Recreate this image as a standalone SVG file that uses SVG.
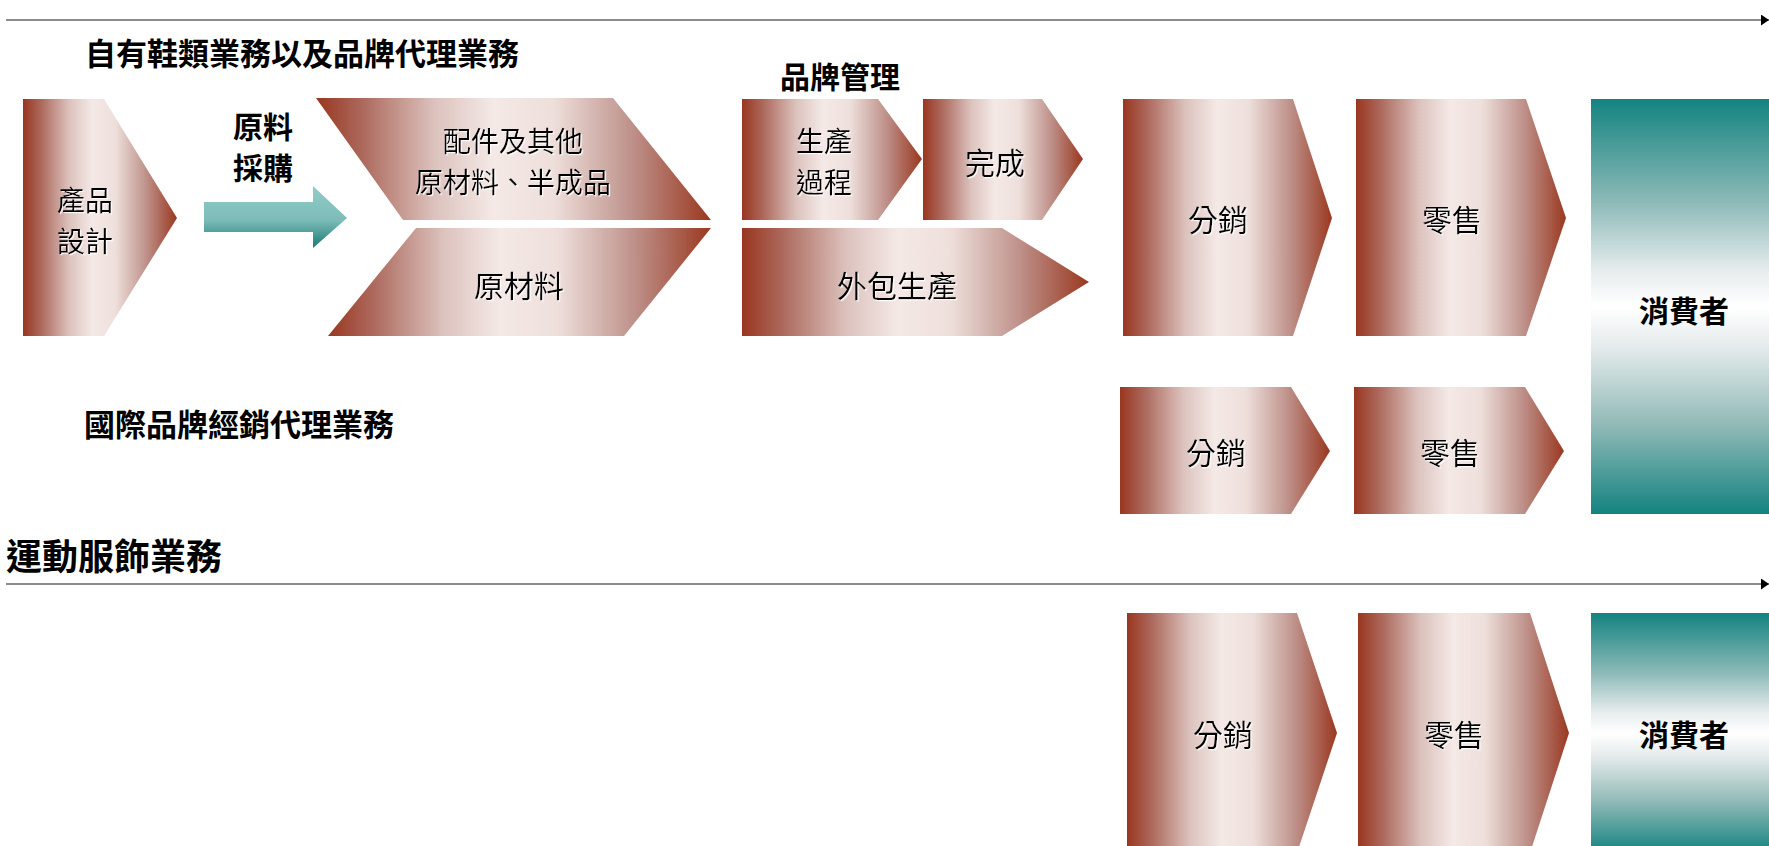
<svg xmlns="http://www.w3.org/2000/svg" width="1769" height="846" viewBox="0 0 1769 846">
<defs>
<linearGradient id="red" x1="0" y1="0" x2="1" y2="0">
<stop offset="0" stop-color="#993620"/>
<stop offset="0.12" stop-color="#AD6A5E"/>
<stop offset="0.3" stop-color="#DCC2BD"/>
<stop offset="0.45" stop-color="#F4E9E6"/>
<stop offset="0.6" stop-color="#EEDFDB"/>
<stop offset="0.8" stop-color="#BE918A"/>
<stop offset="1" stop-color="#9A3820"/>
</linearGradient>
<linearGradient id="teal" x1="0" y1="0" x2="0" y2="1">
<stop offset="0" stop-color="#138380"/>
<stop offset="0.25" stop-color="#8DBAB8"/>
<stop offset="0.42" stop-color="#E9EEEF"/>
<stop offset="0.5" stop-color="#FFFFFF"/>
<stop offset="0.6" stop-color="#E4EAEB"/>
<stop offset="0.78" stop-color="#93BBB8"/>
<stop offset="1" stop-color="#138380"/>
</linearGradient>
<linearGradient id="arrowg" x1="0" y1="0" x2="0" y2="1">
<stop offset="0" stop-color="#92CCC8"/>
<stop offset="0.55" stop-color="#7CBCB8"/>
<stop offset="1" stop-color="#1C7A75"/>
</linearGradient>
<marker id="ah" viewBox="0 0 10 10" refX="10" refY="5" markerWidth="8" markerHeight="11" markerUnits="userSpaceOnUse" orient="auto" preserveAspectRatio="none">
<path d="M0,0 L10,5 L0,10 z" fill="#000"/>
</marker>
<filter id="emb" x="-10%" y="-10%" width="130%" height="130%">
<feDropShadow dx="1.2" dy="1.2" stdDeviation="0.3" flood-color="#FFFFFF" flood-opacity="0.9"/>
</filter>
</defs>
<style>
.chev{fill:url(#red)}
.lbl{font-family:"Noto Sans CJK TC","Noto Sans CJK SC",sans-serif;font-size:30px;fill:#000;text-anchor:middle;dominant-baseline:central}
.ml{font-size:28px}
.hd{font-family:"Noto Sans CJK TC","Noto Sans CJK SC",sans-serif;font-weight:bold;fill:#000;font-size:31px;dominant-baseline:central}
.bl{font-family:"Noto Sans CJK TC","Noto Sans CJK SC",sans-serif;font-weight:bold;fill:#000;font-size:30px;text-anchor:middle;dominant-baseline:central}
.axis{stroke:#666;stroke-width:1.5;fill:none}
</style>

<g id="connectors">
<line class="axis" x1="6" y1="20" x2="1769" y2="20" marker-end="url(#ah)"/>
<line class="axis" x1="6" y1="584" x2="1769" y2="584" marker-end="url(#ah)"/>
</g>

<g id="heading-footwear"><text class="hd" x="85" y="51">自有鞋類業務以及品牌代理業務</text></g>
<g id="heading-intl"><text class="hd" x="84" y="422">國際品牌經銷代理業務</text></g>
<g id="heading-sports"><text class="hd" x="6" y="554" style="font-size:36px">運動服飾業務</text></g>

<g id="product-design">
<polygon class="chev" points="23,99 104,99 177,218 104,336 23,336"/>
<text class="lbl ml" x="85" y="199" filter="url(#emb)">產品</text>
<text class="lbl ml" x="85" y="240" filter="url(#emb)">設計</text>
</g>

<g id="procurement">
<text class="bl ml" x="263" y="125">原料</text>
<text class="bl ml" x="263" y="166">採購</text>
<polygon fill="url(#arrowg)" points="204,202 313,202 313,186 347,218 313,248 313,232 204,232"/>
</g>

<g id="accessories">
<polygon class="chev" points="316,98 613,98 711,220 403,220"/>
<text class="lbl ml" x="513" y="140" filter="url(#emb)">配件及其他</text>
<text class="lbl ml" x="513" y="181" filter="url(#emb)">原材料、半成品</text>
</g>

<g id="raw-materials">
<polygon class="chev" points="416,228 711,228 624,336 328,336"/>
<text class="lbl" x="519" y="284" filter="url(#emb)">原材料</text>
</g>

<g id="brand-mgmt"><text class="bl" x="840" y="75">品牌管理</text></g>

<g id="production">
<polygon class="chev" points="742,99 878,99 922,159 878,220 742,220"/>
<text class="lbl ml" x="824" y="140" filter="url(#emb)">生產</text>
<text class="lbl ml" x="824" y="181" filter="url(#emb)">過程</text>
</g>

<g id="finish">
<polygon class="chev" points="923,99 1042,99 1083,159 1042,220 923,220"/>
<text class="lbl" x="995" y="161" filter="url(#emb)">完成</text>
</g>

<g id="outsourcing">
<polygon class="chev" points="742,228 1002,228 1089,282 1002,336 742,336"/>
<text class="lbl" x="897" y="284" filter="url(#emb)">外包生產</text>
</g>

<g id="dist-1">
<polygon class="chev" points="1123,99 1293,99 1332,218 1293,336 1123,336"/>
<text class="lbl" x="1218" y="218" filter="url(#emb)">分銷</text>
</g>
<g id="retail-1">
<polygon class="chev" points="1356,99 1526,99 1566,218 1526,336 1356,336"/>
<text class="lbl" x="1452" y="218" filter="url(#emb)">零售</text>
</g>
<g id="consumer-1">
<rect x="1591" y="99" width="178" height="415" fill="url(#teal)"/>
<text class="bl" x="1684" y="309">消費者</text>
</g>

<g id="dist-2">
<polygon class="chev" points="1120,387 1291,387 1330,451 1291,514 1120,514"/>
<text class="lbl" x="1216" y="451" filter="url(#emb)">分銷</text>
</g>
<g id="retail-2">
<polygon class="chev" points="1354,387 1525,387 1564,451 1525,514 1354,514"/>
<text class="lbl" x="1450" y="451" filter="url(#emb)">零售</text>
</g>

<g id="dist-3">
<polygon class="chev" points="1127,613 1297,613 1337,733 1297,853 1127,853"/>
<text class="lbl" x="1223" y="733" filter="url(#emb)">分銷</text>
</g>
<g id="retail-3">
<polygon class="chev" points="1358,613 1530,613 1569,733 1530,853 1358,853"/>
<text class="lbl" x="1454" y="733" filter="url(#emb)">零售</text>
</g>
<g id="consumer-3">
<rect x="1591" y="613" width="178" height="240" fill="url(#teal)"/>
<text class="bl" x="1684" y="733">消費者</text>
</g>
</svg>
